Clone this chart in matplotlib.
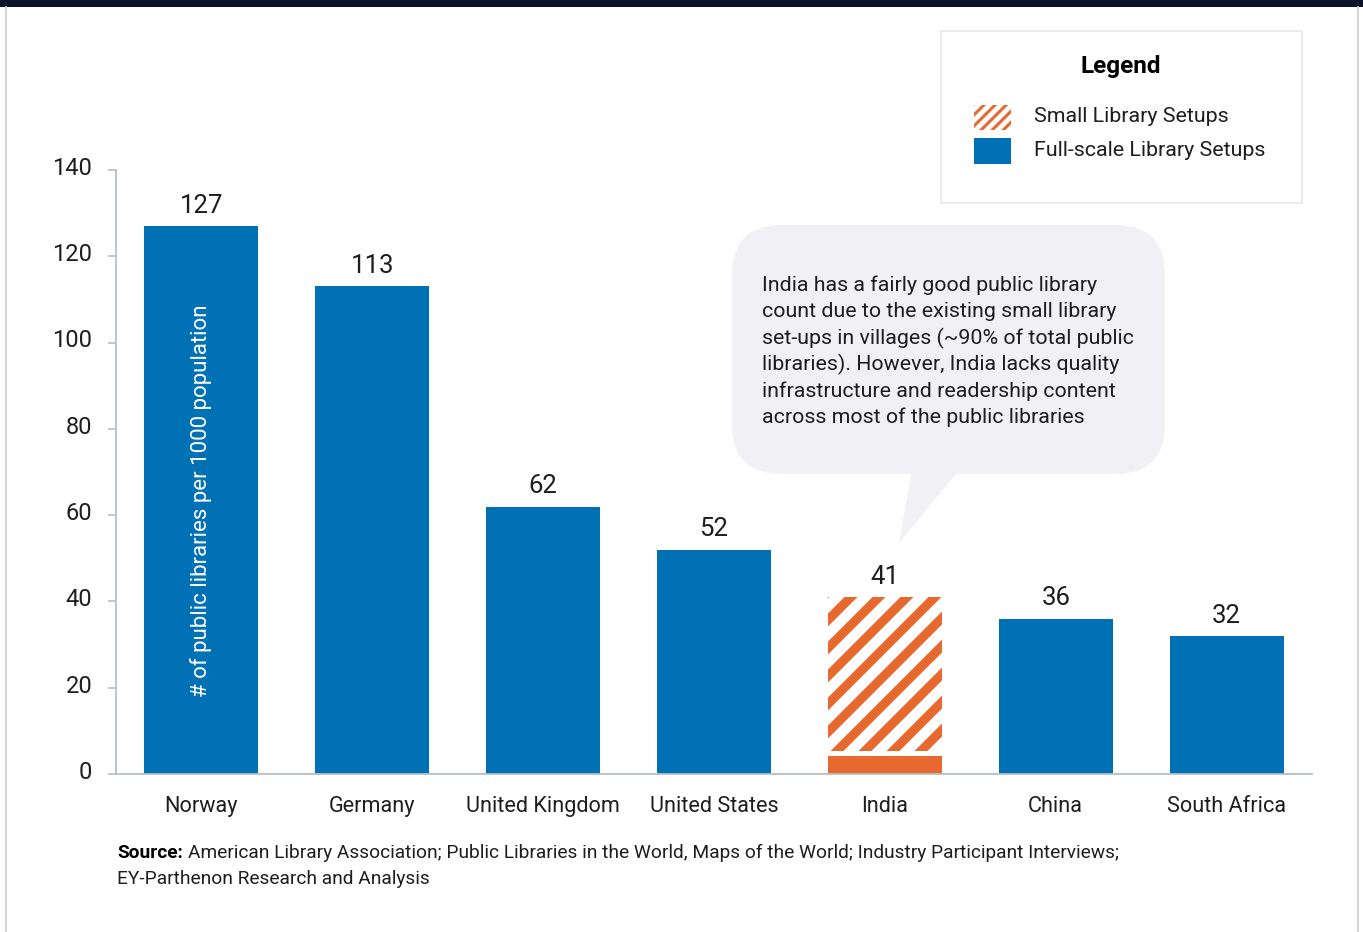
import numpy as np
import matplotlib.pyplot as plt
from matplotlib.patches import Rectangle, FancyBboxPatch, Polygon
from matplotlib.lines import Line2D
from matplotlib.transforms import IdentityTransform, ScaledTranslation

plt.rcParams['font.family'] = ['Roboto', 'DejaVu Sans']
plt.rcParams['hatch.linewidth'] = 2.2

countries = ['Norway', 'Germany', 'United Kingdom', 'United States', 'India', 'China', 'South Africa']
totals = [127, 113, 62, 52, 41, 36, 32]
full_scale = [127, 113, 62, 52, 4.1, 36, 32]
small_setups = [0, 0, 0, 0, 36.9, 0, 0]
yticks = [0, 20, 40, 60, 80, 100, 120, 140]

callout = ["India has a fairly good public library",
           "count due to the existing small library",
           "set-ups in villages (~90% of total public",
           "libraries). However, India lacks quality",
           "infrastructure and readership content",
           "across most of the public libraries"]

blue = '#0071b4'
orange = '#e8692f'
txt = '#1e1e1e'
grey = '#b7bec6'

W, H = 1363, 932
fig = plt.figure(figsize=(W / 100, H / 100), dpi=100)
fig.patch.set_facecolor('white')

# pixel helper (image coords, y down) -> display coords
def d(x, y):
    return (x, H - y)

ident = IdentityTransform()

# frame: dark top band and thin side borders
fig.add_artist(Rectangle(d(0, 7), W, 7, transform=ident, color='#0a1428', lw=0))
fig.add_artist(Line2D([5.5, 5.5], [0, H - 7], transform=ident, color='#c9cdd2', lw=1.2))
fig.add_artist(Line2D([1358, 1358], [0, H - 7], transform=ident, color='#c9cdd2', lw=1.2))

ax = fig.add_axes([116 / W, (H - 774) / H, 1196 / W, 604 / H])
ax.set_xlim(-0.5, 6.5)
ax.set_ylim(0, 140)
x = np.arange(len(countries))
bw = 0.667

colors = [orange if s > 0 else blue for s in small_setups]
ax.bar(x, full_scale, width=bw, color=colors, zorder=2)

# hatched small library part (drawn with clipped stripes)
gap = 1.2
for i, s in enumerate(small_setups):
    if s <= 0:
        continue
    bottom = full_scale[i] + gap
    rect = Rectangle((i - bw / 2, bottom), bw, totals[i] - bottom,
                     facecolor='white', lw=0, zorder=2)
    ax.add_patch(rect)
    fig.canvas.draw()
    (x0, y0) = ax.transData.transform((i - bw / 2, bottom))
    (x1, y1) = ax.transData.transform((i + bw / 2, totals[i]))
    h = y1 - y0
    period = 28
    for c in np.arange(23 - period, (x1 - x0) + h + period, period):
        # stripe crossing the top edge at x0 + c, slope 1
        xs = [x0 + c - h - 20, x0 + c + 20]
        ys = [y0 - 20, y1 + 20]
        ln = Line2D(xs, ys, transform=ident, color=orange, lw=6.6,
                    solid_capstyle='butt', zorder=3)
        ax.add_line(ln)
        ln.set_clip_path(rect)

for i, t in enumerate(totals):
    ax.annotate(str(t), (i, t), xytext=(0, 6), textcoords='offset points',
                ha='center', va='bottom', fontsize=18.5, color=txt)

ax.set_xticks(x)
ax.set_xticklabels(countries, fontsize=15.6, color=txt)
ax.tick_params(axis='x', length=0, pad=16)
ax.set_yticks(yticks)
ax.tick_params(axis='y', length=6, width=1.2, color=grey, labelsize=17,
               labelcolor=txt, pad=11)
up = ScaledTranslation(0, 3 / 72, fig.dpi_scale_trans)
for lab in ax.get_yticklabels():
    lab.set_transform(lab.get_transform() + up)
for sp in ['top', 'right']:
    ax.spines[sp].set_visible(False)
for sp in ['left', 'bottom']:
    ax.spines[sp].set_color(grey)
    ax.spines[sp].set_linewidth(1.3)

ax.text(0, 0.452, '# of public libraries per 1000 population', transform=ax.get_xaxis_transform(),
        rotation=90, ha='center', va='center', color='white', fontsize=16, zorder=4)

# callout bubble
bub = '#f0f0f5'
fig.add_artist(FancyBboxPatch(d(732, 474), 433, 249, transform=ident,
                              boxstyle='round,pad=0,rounding_size=50', fc=bub, ec='none'))
fig.add_artist(Polygon([d(912, 470), d(959, 470), d(899, 543)], closed=True,
                       transform=ident, fc=bub, ec='none'))
for k, line in enumerate(callout):
    fig.text(762 / W, 1 - (285 + 26.5 * k) / H, line, ha='left', va='center',
             fontsize=15.4, color=txt)

# legend box
fig.add_artist(Rectangle(d(941, 203), 361, 172, transform=ident, fc='white',
                         ec='#e6e6ec', lw=1.2))
fig.text(1121 / W, 1 - 66 / H, 'Legend', ha='center', va='center', fontsize=17.5,
         fontweight='bold', color='black')
fig.add_artist(Rectangle(d(974, 130), 37, 25, transform=ident, fc='white',
                         ec=orange, lw=0, hatch='///'))
fig.add_artist(Rectangle(d(974, 164), 37, 26, transform=ident, fc=blue, lw=0))
fig.text(1034 / W, 1 - 117 / H, 'Small Library Setups', ha='left', va='center',
         fontsize=15.4, color=txt)
fig.text(1034 / W, 1 - 151 / H, 'Full-scale Library Setups', ha='left', va='center',
         fontsize=15.4, color=txt)

# source note
r = fig.canvas.get_renderer()
s1 = fig.text(117 / W, 1 - 853 / H, 'Source:', ha='left', va='center', fontsize=13.8,
              fontweight='bold', color='black')
bb = s1.get_window_extent(renderer=r)
fig.text((bb.x1 + 5) / W, 1 - 853 / H,
         'American Library Association; Public Libraries in the World, Maps of the World; '
         'Industry Participant Interviews;', ha='left', va='center', fontsize=13.8, color=txt)
fig.text(117 / W, 1 - 879 / H, 'EY-Parthenon Research and Analysis', ha='left',
         va='center', fontsize=13.8, color=txt)

fig.savefig('out.png', dpi=100)
